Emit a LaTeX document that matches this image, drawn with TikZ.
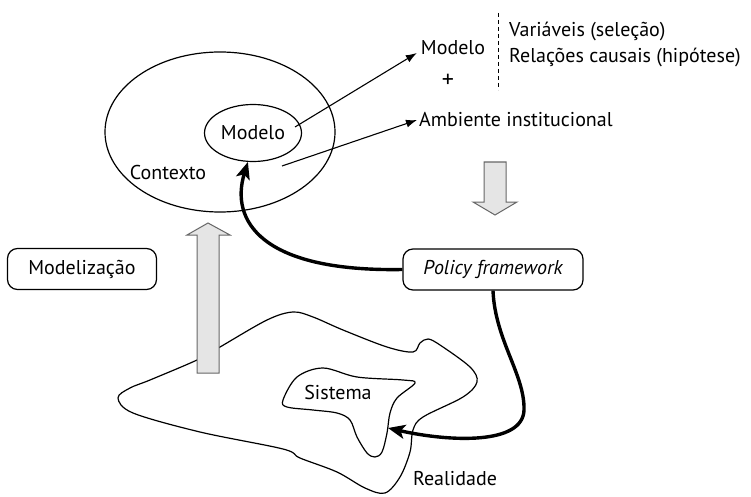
\documentclass[tikz,border=0pt]{standalone}
\usepackage{fontspec}
\setmainfont{PT Sans}
\usetikzlibrary{
  arrows.meta,
  positioning,
  shapes.geometric,
  calc,
}
\tikzset{
  region/.style={
    ellipse, draw, line width=1.2pt, inner sep=0pt,
    font=\fontsize{20}{24}\selectfont,
  },
  txt/.style={
    inner sep=2pt, font=\fontsize{20}{24}\selectfont,
  },
  tagbox/.style={
    rectangle, rounded corners=10pt, draw, line width=1.2pt,
    minimum height=41pt, inner sep=0pt, font=\fontsize{20}{24}\selectfont,
  },
  arrowThin/.style={
    -{Latex[length=11pt,width=8pt]}, line width=1.1pt,
  },
  arrowThick/.style={
    -{Stealth[length=17pt,width=14pt,inset=4pt]}, line width=3.4pt,
  },
  bigarrow/.style={
    draw=black!60, fill=black!10, line width=1pt,
  },
  blob/.style={
    draw, line width=1.2pt,
  },
}

\begin{document}
\begin{tikzpicture}[x=1pt, y=-1pt]
\useasboundingbox (0,0) rectangle (751,497);

% reality and system
\draw[blob] plot[smooth cycle, tension=0.55] coordinates {
  (293,312) (313,317) (343,330) (387,347) (413,352) (420,343) (428,339)
  (440,345) (470,367) (477,382) (463,397) (423,417) (413,430) (410,452)
  (400,477) (385,493) (365,488) (337,472) (300,458) (283,449) (200,432)
  (133,413) (118,398) (130,388) (150,380) (197,360) (220,347) (267,320)};
\draw[blob] plot[smooth cycle, tension=0.55] coordinates {
  (283,400) (297,377) (323,368) (357,377) (403,380) (415,383) (397,398)
  (390,413) (387,433) (382,452) (375,457) (367,453) (357,437) (350,420)
  (337,413) (313,410) (287,407)};
\node[txt] (sistema) at (338,392) {Sistema};
\node[txt] (realidade) at (455,479) {Realidade};

% context and model
\node[region, minimum width=230pt, minimum height=160pt] (contexto) at (220,132) {};
\node[region, minimum width=97pt, minimum height=57pt] (modelo) at (253,133) {Modelo};
\node[txt] (contextoLbl) at (168,172) {Contexto};

% block arrows
\draw[bigarrow] (197,373) -- (197,235) -- (187,235) -- (208,223) -- (230,235)
  -- (219,235) -- (219,373) -- cycle;
\draw[bigarrow] (484,162) -- (484,202) -- (473,202) -- (495,215) -- (517,202)
  -- (506,202) -- (506,162) -- cycle;

% model description
\node[txt] (modeloTop) at (453,48) {Modelo};
\node[txt, anchor=west] (variaveis) at (507,32) {Variáveis (seleção)};
\node[txt, anchor=west] (relacoes) at (507,58) {Relações causais (hipótese)};
\node[txt, font=\fontsize{24}{26}\selectfont] (mais) at (448,81) {+};
\node[txt, anchor=west] (ambiente) at (417,120) {Ambiente institucional};
\coordinate (sepTop) at (498,13);
\coordinate (sepBot) at (498,90);
\draw[dashed, dash pattern=on 4pt off 3pt, line width=1pt] (sepTop) -- (sepBot);

% boxes
\node[tagbox, minimum width=180pt] (policy) at (493,269.5) {\itshape Policy framework};
\node[tagbox, minimum width=149pt] (modelizacao) at (82,269) {Modelização};

% connectors
\coordinate (fromModelo) at (295,127);
\coordinate (fromContexto) at (282,166);
\coordinate (sysTip) at (388,428);
\draw[arrowThin] (fromModelo) -- ([xshift=-2pt,yshift=-5pt]modeloTop.west);
\draw[arrowThin] (fromContexto) -- (ambiente.west);
\draw[arrowThick] (policy.west) .. controls (260,272) and (230,220) .. (modelo.-100);
\draw[arrowThick] (policy.south) .. controls (495,340) and (525,375) .. (524,410)
  .. controls (523,445) and (450,442) .. (sysTip);

\end{tikzpicture}
\end{document}
